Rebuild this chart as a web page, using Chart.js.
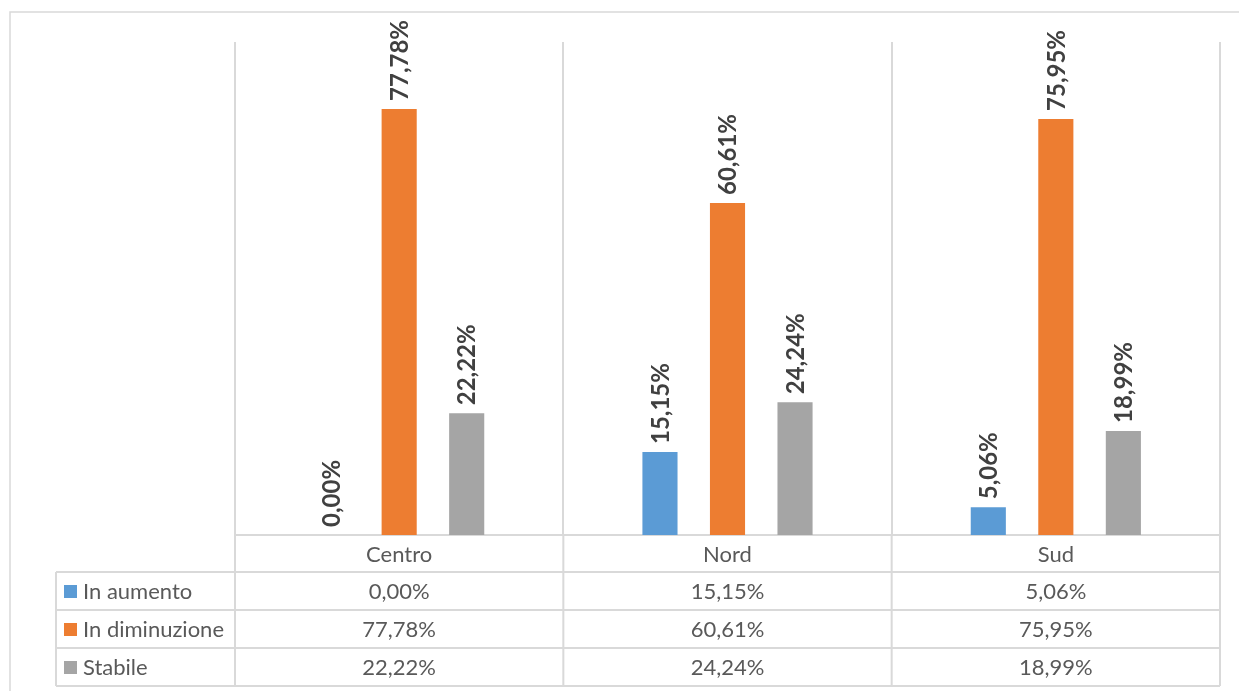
<!DOCTYPE html>
<html>
<head>
<meta charset="utf-8">
<script src="https://cdn.jsdelivr.net/npm/chart.js@4/dist/chart.umd.min.js"></script>
<style>
  html, body { margin: 0; padding: 0; background: #fff; }
  #wrap { width: 1239px; height: 691px; position: relative; }
</style>
</head>
<body>
<div id="wrap"><canvas id="chart" width="1239" height="691"></canvas></div>
<script>
const categories   = ['Centro', 'Nord', 'Sud'];
const seriesNames  = ['In aumento', 'In diminuzione', 'Stabile'];
const inAumento    = [0.00, 15.15, 5.06];
const inDiminuzione = [77.78, 60.61, 75.95];
const stabile      = [22.22, 24.24, 18.99];
const seriesColors = ['#5b9bd5', '#ed7d31', '#a5a5a5'];

const gridColor = '#d9d9d9';
const textColor = '#595959';
const fontName  = 'Lato, "Open Sans", sans-serif';

const fmt = v => v.toFixed(2).replace('.', ',') + '%';

// rotated value labels above each bar
const valueLabels = {
  id: 'valueLabels',
  afterDatasetsDraw(chart) {
    const ctx = chart.ctx;
    ctx.save();
    ctx.fillStyle = '#404040';
    ctx.font = 'bold 24px ' + fontName;
    ctx.textAlign = 'left';
    ctx.textBaseline = 'middle';
    chart.data.datasets.forEach((ds, i) => {
      chart.getDatasetMeta(i).data.forEach((bar, j) => {
        ctx.save();
        ctx.translate(bar.x + 1, bar.y - 8);
        ctx.rotate(-Math.PI / 2);
        ctx.fillText(fmt(ds.data[j]), 0, 0);
        ctx.restore();
      });
    });
    ctx.restore();
  }
};

// data table under the plot, plus the outer frame
const dataTable = {
  id: 'dataTable',
  afterDraw(chart) {
    const ctx = chart.ctx;
    const xs = chart.scales.x;
    const area = chart.chartArea;
    const step = (area.right - area.left) / categories.length;
    const left = 56, headTop = area.bottom, headH = 37, rowH = 38;
    const rows = [inAumento, inDiminuzione, stabile];
    const bottom = headTop + headH + rowH * rows.length;

    ctx.save();
    ctx.strokeStyle = gridColor;
    ctx.lineWidth = 2;
    ctx.beginPath();
    // horizontal lines
    for (let r = 0; r <= rows.length; r++) {
      const y = headTop + headH + r * rowH;
      ctx.moveTo(left, y);
      ctx.lineTo(area.right, y);
    }
    // vertical lines
    ctx.moveTo(left, headTop + headH);
    ctx.lineTo(left, bottom);
    for (let c = 0; c <= categories.length; c++) {
      const x = area.left + c * step;
      ctx.moveTo(x, headTop);
      ctx.lineTo(x, bottom);
    }
    ctx.stroke();

    // outer frame
    ctx.lineWidth = 1.5;
    ctx.beginPath();
    ctx.moveTo(10, 691);
    ctx.lineTo(10, 12);
    ctx.lineTo(1239, 12);
    ctx.stroke();

    ctx.fillStyle = textColor;
    ctx.font = '22px ' + fontName;
    ctx.textBaseline = 'middle';
    ctx.textAlign = 'center';
    categories.forEach((c, j) => {
      ctx.fillText(c, xs.getPixelForValue(j), headTop + headH / 2 + 1);
    });
    rows.forEach((vals, r) => {
      const cy = headTop + headH + r * rowH + rowH / 2 + 1;
      vals.forEach((v, j) => {
        ctx.fillStyle = textColor;
        ctx.textAlign = 'center';
        ctx.fillText(fmt(v), xs.getPixelForValue(j), cy);
      });
      ctx.fillStyle = seriesColors[r];
      ctx.fillRect(64, cy - 7, 13, 13);
      ctx.fillStyle = textColor;
      ctx.textAlign = 'left';
      ctx.fillText(seriesNames[r], 83, cy);
    });
    ctx.restore();
  }
};

new Chart(document.getElementById('chart'), {
  type: 'bar',
  data: {
    labels: categories,
    datasets: [
      { label: seriesNames[0], data: inAumento,     backgroundColor: seriesColors[0] },
      { label: seriesNames[1], data: inDiminuzione, backgroundColor: seriesColors[1] },
      { label: seriesNames[2], data: stabile,       backgroundColor: seriesColors[2] }
    ]
  },
  options: {
    responsive: false,
    animation: false,
    devicePixelRatio: 1,
    layout: { padding: { left: 235, right: 19, top: 42, bottom: 156 } },
    datasets: { bar: { barPercentage: 0.52, categoryPercentage: 0.617 } },
    plugins: { legend: { display: false }, tooltip: { enabled: false } },
    scales: {
      x: {
        grid: { offset: true, color: gridColor, lineWidth: 2, drawTicks: false },
        border: { color: gridColor, width: 2 },
        ticks: { display: false }
      },
      y: { display: false, min: 0, max: 90 }
    }
  },
  plugins: [valueLabels, dataTable]
});
</script>
</body>
</html>
